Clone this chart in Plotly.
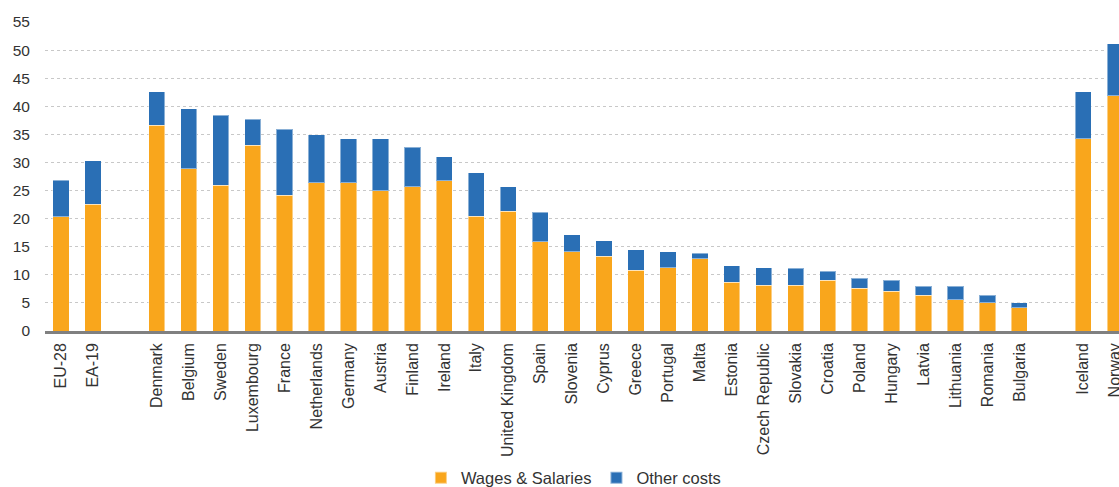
import plotly.graph_objects as go

categories = ["EU-28", "EA-19", " ",
              "Denmark", "Belgium", "Sweden", "Luxembourg", "France", "Netherlands",
              "Germany", "Austria", "Finland", "Ireland", "Italy", "United Kingdom",
              "Spain", "Slovenia", "Cyprus", "Greece", "Portugal", "Malta", "Estonia",
              "Czech Republic", "Slovakia", "Croatia", "Poland", "Hungary", "Latvia",
              "Lithuania", "Romania", "Bulgaria", "  ", "Iceland", "Norway"]

totals = [26.8, 30.3, None,
          42.6, 39.6, 38.4, 37.7, 35.9, 34.9,
          34.2, 34.2, 32.7, 31.0, 28.2, 25.7,
          21.1, 17.1, 16.1, 14.5, 14.1, 13.8, 11.6,
          11.3, 11.2, 10.6, 9.4, 9.0, 8.0,
          8.0, 6.4, 5.0, None, 42.6, 51.1]

wages = [20.3, 22.6, None,
         36.6, 28.9, 25.9, 33.1, 24.2, 26.4,
         26.4, 25.0, 25.7, 26.7, 20.4, 21.3,
         15.9, 14.1, 13.3, 10.8, 11.3, 12.9, 8.7,
         8.1, 8.1, 9.0, 7.6, 7.1, 6.4,
         5.6, 5.0, 4.1, None, 34.2, 41.9]

other = [None if t is None else round(t - w, 2) for t, w in zip(totals, wages)]

y_ticks = [0, 5, 10, 15, 20, 25, 30, 35, 40, 45, 50, 55]

ORANGE = "#F9A61C"
BLUE = "#2A6FB5"
FONT = "Liberation Sans, Arial, sans-serif"

fig = go.Figure()
fig.add_trace(go.Bar(x=categories, y=wages, name="Wages & Salaries",
                     marker=dict(color=ORANGE, line=dict(color="rgba(255,255,255,0.45)", width=1))))
fig.add_trace(go.Bar(x=categories, y=other, name="Other costs",
                     marker=dict(color=BLUE, line=dict(color="rgba(255,255,255,0.45)", width=1))))

fig.update_layout(
    barmode="stack",
    bargap=0.49,
    width=1119, height=487,
    margin=dict(l=45, r=0, t=22, b=156, autoexpand=False),
    paper_bgcolor="white", plot_bgcolor="white",
    font=dict(family=FONT, size=16, color="#333333"),
    showlegend=True,
    legend=dict(orientation="h", x=0.492, xanchor="center", y=-0.476, yanchor="middle",
                font=dict(size=16.5, color="#333333"), traceorder="normal",
                itemwidth=30, itemsizing="constant"),
)
fig.update_xaxes(
    type="category", categoryorder="array", categoryarray=categories,
    range=[-0.5, 33.12], tickangle=-90, showgrid=False, automargin=False,
    showline=True, linecolor="#808080", linewidth=2.5,
    ticks="", tickfont=dict(size=16, color="#333333"), ticklabelstandoff=3,
)
fig.update_yaxes(
    range=[0, 55], tickvals=y_ticks, showgrid=True, gridcolor="#C8C8C8",
    griddash="dot", gridwidth=1, zeroline=False, showline=False, automargin=False,
    ticks="", tickfont=dict(size=15.5, color="#333333"), ticklabelstandoff=14,
)

fig.write_html("out.html")
